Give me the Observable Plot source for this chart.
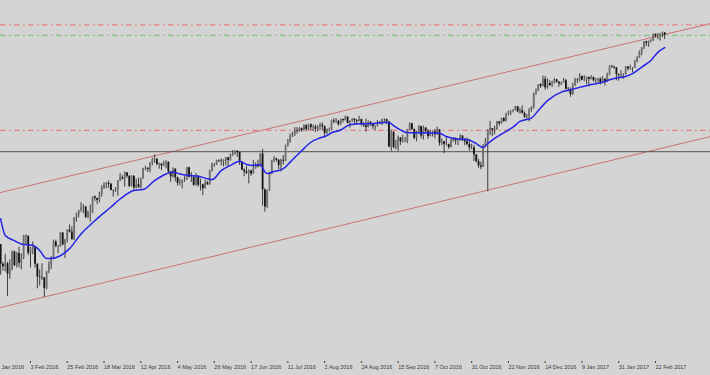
<!DOCTYPE html>
<html><head><meta charset="utf-8">
<script src="https://cdn.jsdelivr.net/npm/d3@7"></script>
<script src="https://cdn.jsdelivr.net/npm/@observablehq/plot@0.6"></script>
<style>html,body{margin:0;padding:0;background:#d4d4d4;overflow:hidden}</style>
</head><body><div id="chart"></div>
<script>
// Daily bars, 12 Jan 2016 (bar 0) .. 28 Feb 2017 (bar 292)
const firstOpen = 1925;
const closes = [
1938,1890,1921,1880,1875,1881,1859,1869,1906,1877,1903,1882,1893,1940,
1939,1903,1913,1915,1880,1853,1852,1851,1829,1864,1880,1895,1927,1918,1918,1946,1921,1930,1952,1948,1932,
1978,1986,1993,1999,2001,1979,1989,1989,2022,2019,2015,2027,2040,2049,2051,2049,2036,2035,2037,2056,2063,2060,
2073,2066,2045,2066,2041,2048,2042,2061,2082,2083,2080,2094,2101,2102,2091,2092,2088,2091,2095,2075,2065,
2081,2063,2051,2051,2057,2058,2084,2064,2064,2047,2066,2047,2048,2040,2052,2048,2076,2090,2090,2099,2098,2097,
2100,2105,2099,2110,2112,2119,2116,2096,2079,2075,2072,2077,2071,2083,2089,2086,2113,2037,2001,2036,2071,2099,
2103,2100,2089,2100,2098,2130,2137,2152,2152,2163,2162,2167,2163,2173,2165,2175,2169,2170,2166,2170,2174,
2171,2157,2164,2164,2183,2181,2182,2175,2186,2184,2191,2178,2182,2187,2184,2182,2186,2175,2173,2169,2180,2176,2171,
2171,2180,2179,2186,2186,2181,2128,2159,2127,2126,2147,2139,2139,2140,2164,2177,2165,2146,2160,2171,2151,2168,
2161,2150,2160,2160,2154,2164,2136,2139,2133,2133,2127,2140,2144,2141,2141,2151,2143,2139,2133,2126,2126,
2111,2097,2088,2085,2132,2140,2163,2167,2164,2165,2181,2177,2188,2182,2198,2203,2204,2205,2213,2202,2205,2199,
2191,2192,2205,2212,2241,2246,2260,2256,2271,2253,2262,2258,2263,2270,2265,2261,2264,2268,2250,2249,2239,
2257,2271,2270,2277,2269,2269,2275,2271,2275,2268,2268,2272,2264,2271,2265,2280,2298,2297,2295,2281,2279,
2280,2281,2297,2293,2293,2295,2307,2316,2328,2338,2350,2347,2351,2352,2366,2362,2364,2367,2369,2364
];
const highs = [
1947,1950,1935,1922,1884,1901,1884,1889,1908,1908,1905,1916,1902,1941,
1942,1940,1916,1927,1916,1881,1868,1881,1852,1865,1885,1896,1931,1931,1920,1947,1947,1933,1953,1963,1959,
1979,1988,1994,2010,2006,2002,1992,2005,2022,2025,2020,2032,2046,2052,2053,2056,2051,2037,2042,2057,2072,2067,
2075,2074,2067,2067,2067,2060,2062,2062,2083,2087,2084,2095,2104,2111,2103,2094,2093,2098,2099,2097,2076,
2084,2082,2064,2060,2058,2065,2085,2085,2074,2065,2072,2067,2060,2049,2058,2055,2079,2094,2093,2100,2101,2103,
2101,2106,2106,2113,2120,2120,2120,2117,2097,2082,2087,2080,2079,2100,2094,2100,2114,2123,2040,2037,2074,2100,
2108,2104,2101,2102,2110,2132,2144,2156,2159,2169,2169,2169,2168,2175,2175,2176,2177,2174,2174,2173,2178,
2179,2172,2166,2168,2185,2188,2188,2184,2187,2187,2193,2192,2183,2188,2188,2186,2193,2187,2179,2187,2183,2182,2177,
2174,2184,2182,2187,2188,2187,2182,2164,2160,2142,2151,2148,2153,2148,2165,2179,2178,2166,2161,2173,2172,2172,
2169,2165,2163,2162,2165,2170,2165,2145,2140,2150,2134,2145,2148,2147,2143,2154,2152,2146,2147,2143,2134,
2131,2112,2102,2096,2133,2146,2165,2182,2167,2172,2182,2182,2189,2190,2199,2204,2205,2207,2214,2214,2210,2215,
2202,2197,2209,2213,2242,2251,2260,2262,2278,2277,2272,2268,2267,2273,2271,2266,2265,2273,2271,2254,2253,
2263,2273,2272,2283,2278,2279,2276,2276,2279,2276,2273,2273,2274,2277,2272,2284,2300,2301,2299,2296,2282,
2289,2283,2298,2298,2301,2296,2311,2319,2331,2338,2351,2352,2352,2355,2367,2367,2368,2368,2371,2370
];
const lows = [
1914,1886,1878,1857,1865,1864,1812,1848,1866,1875,1872,1872,1868,1890,
1920,1898,1872,1900,1872,1828,1834,1846,1810,1826,1860,1869,1893,1915,1902,1916,1919,1892,1925,1946,1931,
1930,1969,1978,1990,1987,1977,1976,1969,1987,2013,2006,2010,2022,2038,2040,2040,2035,2022,2032,2024,2055,2058,
2043,2062,2042,2043,2034,2039,2041,2039,2060,2078,2074,2073,2088,2093,2088,2081,2078,2086,2082,2071,2053,
2062,2054,2045,2046,2039,2053,2057,2063,2053,2045,2045,2043,2035,2025,2039,2047,2047,2075,2085,2089,2095,2088,
2086,2088,2085,2098,2108,2111,2106,2089,2078,2065,2070,2050,2066,2070,2081,2084,2085,2003,1990,1998,2034,2069,
2095,2096,2080,2075,2090,2097,2128,2136,2148,2150,2155,2159,2159,2162,2160,2163,2163,2161,2159,2160,2163,
2163,2147,2154,2159,2163,2177,2178,2172,2174,2179,2183,2177,2168,2180,2175,2175,2181,2172,2169,2160,2168,2171,2165,
2162,2170,2176,2173,2180,2175,2127,2119,2124,2122,2119,2131,2136,2137,2135,2163,2163,2143,2139,2155,2145,2143,
2156,2144,2149,2149,2145,2153,2130,2131,2114,2130,2123,2126,2138,2132,2131,2140,2139,2131,2130,2119,2122,
2097,2094,2083,2080,2085,2128,2033,2152,2150,2154,2163,2172,2176,2180,2181,2194,2194,2200,2204,2200,2197,2198,
2188,2186,2181,2201,2208,2237,2245,2252,2255,2248,2250,2256,2254,2261,2263,2254,2258,2263,2249,2244,2233,
2237,2256,2262,2265,2268,2266,2260,2255,2270,2265,2262,2264,2259,2263,2257,2264,2279,2294,2292,2268,2267,
2272,2271,2280,2289,2290,2285,2294,2306,2315,2321,2334,2340,2339,2348,2351,2358,2355,2352,2359,2355
];
// Moving average (bar, value)
const maBars = [3,5,9,12,17,20,23,25,29,33,38,44,51,55,61,65,70,75,78,81,84,89,93,95,99,103,107,110,113,116,118,119,122,126,129,134,138,142,145,147,151,155,160,164,170,172,174,177,180,186,194,197,202,206,210,213,215,218,223,226,229,234,237,241,247,251,255,260,265,268,271,275,278,282,286,289,292];
const maValues = [1976,1941,1930,1923,1920,1909,1892,1892,1898,1913,1944,1972,2001,2018,2036,2038,2057,2071,2075,2071,2068,2066,2061,2059,2078,2089,2098,2091,2089,2091,2075,2072,2076,2082,2096,2120,2138,2147,2152,2158,2164,2175,2177,2177,2180,2180,2173,2164,2158,2158,2157,2150,2145,2144,2135,2127,2135,2146,2161,2170,2182,2189,2205,2226,2244,2249,2254,2260,2265,2270,2274,2277,2283,2297,2311,2328,2338];
// Channel trend lines (bar, price)
const channelBars = [2.94, 311.94];
const upperChannel = [2031.7, 2389];
const lowerChannel = [1788.6, 2150.1];
// Horizontal levels
const redLevels = [2386, 2163];
const greenLevels = [2364];
const solidLevels = [2118];
// Time axis
const tickBars = [0,16,32,48,64,80,96,112,128,144,160,176,192,208,224,240,256,272,288];
const tickLabels = ["12 Jan 2016","3 Feb 2016","25 Feb 2016","18 Mar 2016","12 Apr 2016","4 May 2016","26 May 2016","17 Jun 2016","11 Jul 2016","2 Aug 2016","24 Aug 2016","15 Sep 2016","7 Oct 2016","31 Oct 2016","22 Nov 2016","14 Dec 2016","9 Jan 2017","31 Jan 2017","22 Feb 2017"];

const bars = closes.map((c, i) => ({i, open: i ? closes[i-1] : firstOpen, close: c, high: highs[i], low: lows[i]}));
const ma = maBars.map((b, k) => ({i: b, v: maValues[k]}));
const up = channelBars.map((b, k) => ({i: b, v: upperChannel[k]}));
const lo = channelBars.map((b, k) => ({i: b, v: lowerChannel[k]}));

const chart = Plot.plot({
  width: 710, height: 375,
  marginTop: 0, marginRight: 0, marginBottom: 14, marginLeft: 0,
  style: {background: "#d4d4d4", color: "#3a3a3a", fontFamily: "Liberation Sans, Arial, sans-serif"},
  x: {domain: [2.94, 311.94], axis: null, label: null},
  y: {domain: [1674.4, 2437.7], axis: null, label: null},
  marks: [
    Plot.line(up, {x: "i", y: "v", stroke: "#c87272", strokeWidth: 1}),
    Plot.line(lo, {x: "i", y: "v", stroke: "#c87272", strokeWidth: 1}),
    Plot.ruleY(redLevels, {stroke: "#e88080", strokeWidth: 1.2, strokeDasharray: "5.5,3.5,1.7,3.3"}),
    Plot.ruleY(greenLevels, {stroke: "#7cc87c", strokeWidth: 1.2, strokeDasharray: "5.5,3.5,1.7,3.3"}),
    Plot.ruleY(solidLevels, {stroke: "#555", strokeWidth: 1}),
    Plot.ruleX(bars, {x: "i", y1: "low", y2: "high", stroke: "#2a2a2a", strokeWidth: 0.9, clip: true}),
    Plot.ruleX(bars, {x: "i", y1: "open", y2: "close", stroke: d => d.close >= d.open ? "#707070" : "#141414", strokeWidth: 1.8, clip: true}),
    Plot.line(ma, {x: "i", y: "v", stroke: "#2424e6", strokeWidth: 1.5, curve: "monotone-x"}),
    Plot.axisX({ticks: tickBars, tickFormat: d => tickLabels[tickBars.indexOf(d)], tickSize: 2, tickPadding: 2, textAnchor: "start", fontSize: 5.5, line: true, label: null})
  ]
});
document.getElementById("chart").appendChild(chart);
</script>
</body></html>
